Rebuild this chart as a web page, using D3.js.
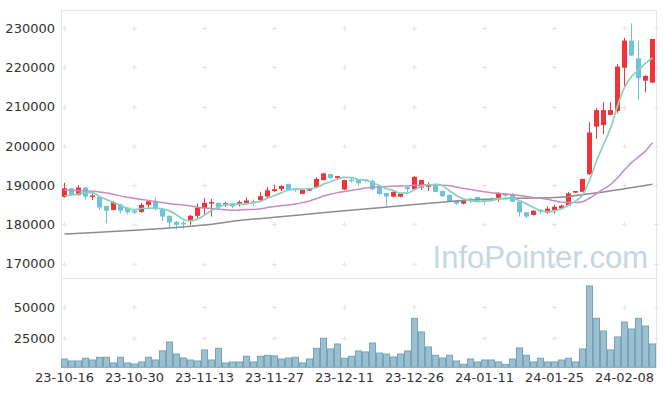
<!DOCTYPE html>
<html lang="en">
<head>
<meta charset="UTF-8">
<title>Stock candles</title>
<script src="https://d3js.org/d3.v7.min.js"></script>
<style>
  body { margin: 0; background: #fff; }
  svg text { font-family: "DejaVu Sans", sans-serif; }
</style>
</head>
<body>
<div id="chart"></div>
<script>
// trading days
const dates = [
  "2023-10-16","2023-10-17","2023-10-18","2023-10-19","2023-10-20","2023-10-23","2023-10-24","2023-10-25","2023-10-26","2023-10-27",
  "2023-10-30","2023-10-31","2023-11-01","2023-11-02","2023-11-03","2023-11-06","2023-11-07","2023-11-08","2023-11-09","2023-11-10",
  "2023-11-13","2023-11-14","2023-11-15","2023-11-16","2023-11-17","2023-11-20","2023-11-21","2023-11-22","2023-11-23","2023-11-24",
  "2023-11-27","2023-11-28","2023-11-29","2023-11-30","2023-12-01","2023-12-04","2023-12-05","2023-12-06","2023-12-07","2023-12-08",
  "2023-12-11","2023-12-12","2023-12-13","2023-12-14","2023-12-15","2023-12-18","2023-12-19","2023-12-20","2023-12-21","2023-12-22",
  "2023-12-26","2023-12-27","2023-12-28","2024-01-02","2024-01-03","2024-01-04","2024-01-05","2024-01-08","2024-01-09","2024-01-10",
  "2024-01-11","2024-01-12","2024-01-15","2024-01-16","2024-01-17","2024-01-18","2024-01-19","2024-01-22","2024-01-23","2024-01-24",
  "2024-01-25","2024-01-26","2024-01-29","2024-01-30","2024-01-31","2024-02-01","2024-02-02","2024-02-05","2024-02-06","2024-02-07",
  "2024-02-08","2024-02-13","2024-02-14","2024-02-15","2024-02-16"
];

const open = [
  187000,189200,187500,189400,187100,187000,184700,183700,185100,184300,
  183500,183200,185000,185900,183900,182200,180700,180400,181000,182200,
  184100,185300,185500,184900,185400,185000,185500,185900,186200,187100,
  188500,189000,190300,189200,187800,188600,189500,191300,192800,191800,
  188900,191400,191400,191500,191100,189700,188000,187070,187070,189500,
  189000,189400,189600,190300,188500,187500,186000,185300,186600,187000,
  186400,186600,186800,187800,187700,185800,183100,182400,183800,183000,
  183700,184100,184800,188100,188300,192800,204900,205300,207900,208900,
  219900,226800,222300,216600,216100
];
const high = [
  190600,189300,190000,189500,187900,187100,184700,186000,185300,184400,
  183800,185500,186100,186900,184000,182300,180900,181000,182400,185300,
  186700,186500,185600,185700,185500,186100,186900,186400,188200,189500,
  190000,190000,190400,189300,188900,189300,192000,193100,192900,192300,
  191400,191900,191500,191600,191400,189800,188100,188500,188000,189600,
  192300,191400,190700,190400,188600,187600,186000,186400,186800,187000,
  186600,186900,188300,188000,188000,185900,183200,183600,183800,184600,
  185000,185000,188300,188500,191600,206000,209600,211100,211100,220800,
  227500,231200,226700,218000,227200
];
const low = [
  186800,187300,187300,186400,186200,183700,180300,183600,182800,182600,
  182600,183000,184300,183500,180900,179000,178800,178900,179900,181600,
  182200,182000,183800,184500,184100,184600,185300,184700,185900,186800,
  188300,188500,188700,188300,187700,188500,189300,191200,191700,191300,
  188700,190700,189800,190700,188800,187500,184500,186900,186900,188000,
  188900,188800,188500,188200,187000,185700,185000,185100,185500,185600,
  185100,185800,185800,187100,185700,182000,181600,182300,182600,182700,
  182800,183900,184700,188000,188300,192600,201800,203000,207800,208400,
  215100,222900,211700,213600,216000
];
const close = [
  189200,187500,189400,187100,187400,184300,183500,185700,183500,183100,
  183000,185000,185900,183900,182000,180500,179900,180000,182200,184300,
  185500,185700,184400,185400,184600,185700,186100,185800,187200,188700,
  189000,189800,188800,188700,188800,189200,191600,193000,191800,192300,
  191300,191200,190500,191200,188900,187750,187100,188300,187800,189000,
  192100,191300,190300,188300,187200,185800,185300,186000,186100,186100,
  186100,186200,188000,187300,185800,183100,182000,183500,183300,184000,
  184500,184800,187900,188500,191600,203400,209100,209100,209100,220200,
  226800,223000,217200,217800,227200
];
const volume = [
  8300,6700,6700,8900,7500,9700,9700,5100,9700,5100,
  4300,5900,9700,7500,14800,22000,12300,9100,7500,6700,
  15600,7500,16900,5100,5900,5900,10500,5900,10500,11300,
  10800,8300,9100,9700,5100,8300,16900,25000,16400,20400,
  8900,10500,14800,14000,21200,13100,12300,9900,12300,14800,
  41100,30100,18000,11300,9100,11300,6700,4000,8300,5900,
  7500,7500,5900,4000,8300,17200,11300,5900,8900,5900,
  5900,7500,8900,5900,16400,67200,41100,30900,15600,26100,
  38100,32500,41100,34900,20400
];

// moving averages before enough history is on screen
const ma5HeadIdx = [0, 1, 2, 3];
const ma5Head = [187240, 187500, 187750, 188090];
const ma20HeadIdx = [0, 3, 6, 9, 12, 15, 18];
const ma20Head = [188700, 188550, 188000, 186900, 186100, 185300, 184700];
// long average (grey)
const maLongIdx = [0, 5, 10, 15, 20, 25, 30, 35, 40, 45, 50, 55, 60, 65, 70, 75, 80, 84];
const maLong = [177570, 178000, 178510, 179100, 179860, 181010, 181850, 182660, 183480,
  184240, 185060, 185840, 186400, 186680, 186860, 187800, 189080, 190220];

const priceTicks = [170000, 180000, 190000, 200000, 210000, 220000, 230000];
const volTicks = [25000, 50000];
const dateTickIdx = [0, 10, 20, 30, 40, 50, 60, 70, 80];

const width = 665, height = 396;
const left = 61, right = 656;
const pTop = 10, pBottom = 277, vTop = 279, vBottom = 367.3;

const svg = d3.select("#chart").append("svg")
  .attr("width", width).attr("height", height);

const x = d3.scaleBand().domain(d3.range(dates.length)).range([left, right]);
const cx = i => x(i) + x.bandwidth() / 2;
const y = d3.scaleLinear().domain([166630, 234580]).range([pBottom, pTop]);
const yv = d3.scaleLinear().domain([1600, 72800]).range([vBottom, vTop]);

const fmt = d3.timeFormat("%y-%m-%d");
const parse = d3.timeParse("%Y-%m-%d");

// frame
const frame = "#e6e6e6";
svg.append("line").attr("x1", left).attr("x2", 657).attr("y1", pTop + 0.5).attr("y2", pTop + 0.5).attr("stroke", frame);
svg.append("line").attr("x1", left).attr("x2", 657).attr("y1", 278.5).attr("y2", 278.5).attr("stroke", frame);
svg.append("line").attr("x1", left + 0.5).attr("x2", left + 0.5).attr("y1", pTop).attr("y2", vBottom).attr("stroke", frame);
svg.append("line").attr("x1", 656.5).attr("x2", 656.5).attr("y1", pTop).attr("y2", vBottom).attr("stroke", frame);

// grid crosses
const crosses = [];
dateTickIdx.forEach(i => {
  priceTicks.forEach(p => crosses.push([Math.round(cx(i)) - 0.5, Math.round(y(p)) + 0.5]));
  volTicks.forEach(v => crosses.push([Math.round(cx(i)) - 0.5, Math.round(yv(v)) + 0.5]));
});
priceTicks.forEach(p => crosses.push([656.5, Math.round(y(p)) + 0.5]));
volTicks.forEach(v => crosses.push([656.5, Math.round(yv(v)) + 0.5]));
const g = svg.append("g").attr("stroke", "#e6e6e6");
crosses.forEach(([a, b]) => {
  g.append("line").attr("x1", a - 2.5).attr("x2", a + 2.5).attr("y1", b).attr("y2", b);
  g.append("line").attr("x1", a).attr("x2", a).attr("y1", b - 2.5).attr("y2", b + 2.5);
});

// watermark
svg.append("text")
  .attr("x", 648).attr("y", 268)
  .attr("text-anchor", "end")
  .style("font-family", "'Liberation Sans', Arial, sans-serif")
  .style("font-size", "31px")
  .attr("fill", "#c6d7e1")
  .text("InfoPointer.com");

// volume bars
svg.append("g").selectAll("rect")
  .data(volume)
  .join("rect")
  .attr("x", (d, i) => x(i) + 0.5)
  .attr("y", d => yv(d))
  .attr("width", x.bandwidth() - 1)
  .attr("height", d => vBottom - yv(d))
  .attr("fill", "#9cc0d0")
  .attr("stroke", "#76a5bb")
  .attr("stroke-width", 1);

// candles
const up = "#ee3438", down = "#6cc4dc";
const candles = svg.append("g").selectAll("g")
  .data(d3.range(dates.length))
  .join("g")
  .attr("fill", i => close[i] >= open[i] ? up : down)
  .attr("stroke", i => close[i] >= open[i] ? up : down);
candles.append("line")
  .attr("x1", i => cx(i)).attr("x2", i => cx(i))
  .attr("y1", i => y(high[i])).attr("y2", i => y(low[i]));
candles.append("rect")
  .attr("stroke", "none")
  .attr("x", i => x(i) + 1)
  .attr("width", x.bandwidth() - 2)
  .attr("y", i => y(Math.max(open[i], close[i])))
  .attr("height", i => Math.max(1.5, Math.abs(y(open[i]) - y(close[i]))));

// moving averages
function movingAvg(n, headIdx, head) {
  const pts = headIdx.map((i, k) => [i, head[k]]);
  for (let i = n - 1; i < close.length; i++) {
    pts.push([i, d3.mean(close.slice(i - n + 1, i + 1))]);
  }
  return pts;
}
const line = d3.line().x(d => cx(d[0])).y(d => y(d[1])).curve(d3.curveMonotoneX);

svg.append("path").datum(maLongIdx.map((i, k) => [i, maLong[k]]))
  .attr("d", line).attr("fill", "none")
  .attr("stroke", "#8c8c8c").attr("stroke-width", 1.5);
svg.append("path").datum(movingAvg(20, ma20HeadIdx, ma20Head))
  .attr("d", line).attr("fill", "none")
  .attr("stroke", "#c98bbf").attr("stroke-width", 1.5);
svg.append("path").datum(movingAvg(5, ma5HeadIdx, ma5Head))
  .attr("d", line).attr("fill", "none")
  .attr("stroke", "#8ccfbf").attr("stroke-width", 1.7);

// axes
const yAxis = svg.append("g")
  .attr("transform", `translate(${left - 6},0)`)
  .call(d3.axisLeft(y).tickValues(priceTicks).tickSize(0).tickPadding(0).tickFormat(d3.format("d")));
const vAxis = svg.append("g")
  .attr("transform", `translate(${left - 6},0)`)
  .call(d3.axisLeft(yv).tickValues(volTicks).tickSize(0).tickPadding(0).tickFormat(d3.format("d")));
const xAxis = svg.append("g")
  .attr("transform", `translate(0,${vBottom})`)
  .call(d3.axisBottom(x).tickValues(dateTickIdx).tickSize(0).tickPadding(5)
    .tickFormat(i => fmt(parse(dates[i]))));
[yAxis, vAxis, xAxis].forEach(a => {
  a.select(".domain").remove();
  a.selectAll("text").attr("fill", "#333").style("font-size", "13px");
});
</script>
</body>
</html>
